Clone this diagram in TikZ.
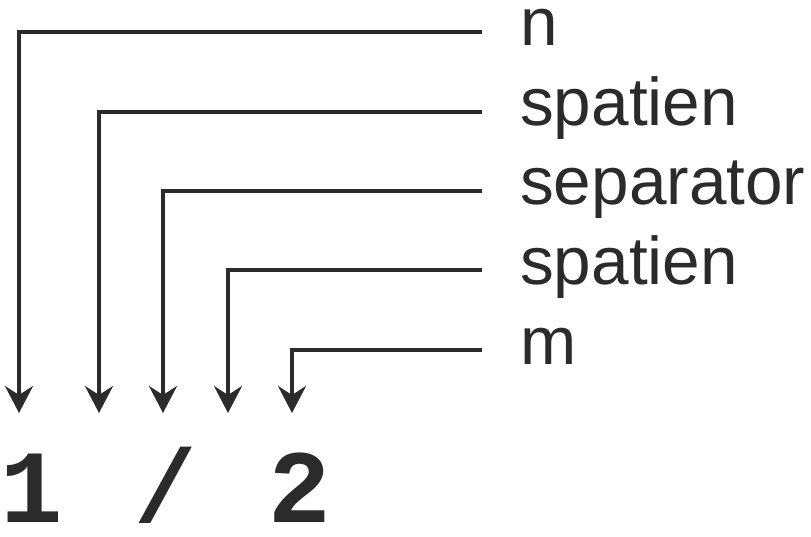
\documentclass[tikz,border=0pt]{standalone}
\usepackage{fontspec}
\setmainfont{Liberation Sans}
\newfontfamily\monobold[LetterSpace=8.7]{Liberation Mono Bold}
\usetikzlibrary{arrows.meta}
\definecolor{ink}{RGB}{43,43,43}
\begin{document}
\begin{tikzpicture}[x=1pt,y=-1pt,
  conn/.style={draw=ink,line width=3.2pt,-{Stealth[length=27pt,width=28pt,inset=9pt]}},
  lab/.style={anchor=base west,inner xsep=38pt,inner ysep=0pt,text=ink,font=\fontsize{67.5}{72}\selectfont},
  fracstyle/.style={anchor=base west,inner sep=0pt,text=ink,font=\monobold\fontsize{104}{110}\selectfont}]
\useasboundingbox (0,0) rectangle (811,537);
\node[lab] (l1) at (482,46) {n};
\node[lab] (l2) at (482,126) {spatien};
\node[lab] (l3) at (482,205) {separator};
\node[lab] (l4) at (482,284) {spatien};
\node[lab] (l5) at (482,364) {m};
\coordinate (t1) at (19,413);
\coordinate (t2) at (99,413);
\coordinate (t3) at (163,413);
\coordinate (t4) at (228,413);
\coordinate (t5) at (292,413);
\node[fracstyle] (frac) at (0.8,522) {1 / 2};
\draw[conn] ([yshift=14pt]l1.base west) -| (t1);
\draw[conn] ([yshift=14pt]l2.base west) -| (t2);
\draw[conn] ([yshift=14pt]l3.base west) -| (t3);
\draw[conn] ([yshift=14pt]l4.base west) -| (t4);
\draw[conn] ([yshift=14pt]l5.base west) -| (t5);
\end{tikzpicture}
\end{document}
